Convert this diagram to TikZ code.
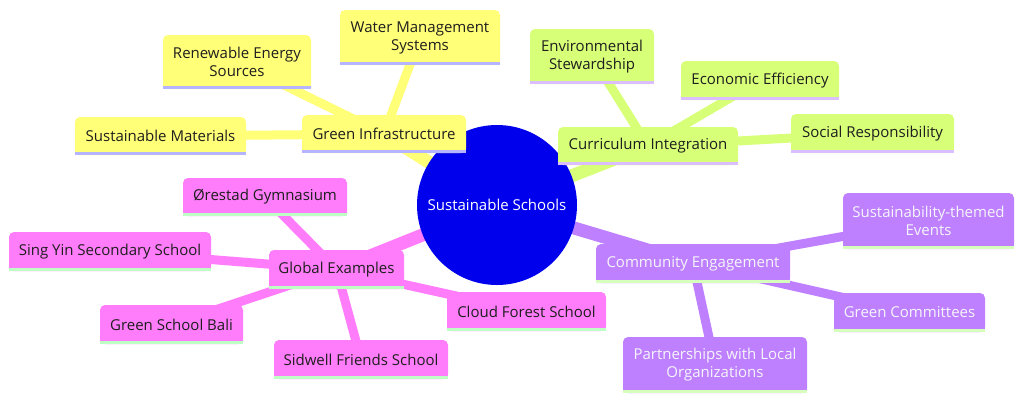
\documentclass[tikz,border=0pt]{standalone}
\usepackage{fontspec}
\setmainfont{Open Sans}
\usetikzlibrary{backgrounds}
\definecolor{cblue}{RGB}{0,0,236}
\definecolor{cy}{RGB}{255,255,120}
\definecolor{cl}{RGB}{216,255,120}
\definecolor{cp}{RGB}{190,128,255}
\definecolor{ck}{RGB}{255,125,250}
\definecolor{uy}{RGB}{180,180,255}
\definecolor{ul}{RGB}{218,190,255}
\definecolor{up}{RGB}{214,255,190}
\definecolor{uk}{RGB}{190,255,195}
\definecolor{tdark}{RGB}{30,30,30}
\definecolor{tlight}{RGB}{245,245,250}
\begin{document}
\begin{tikzpicture}[x=1pt,y=-1pt,
  box/.style={rectangle, rounded corners=5pt, inner sep=0pt, align=center,
    font=\fontsize{15}{18}\selectfont},
  yb/.style={box, fill=cy, text=tdark},
  lb/.style={box, fill=cl, text=tdark},
  pb/.style={box, fill=cp, text=tlight},
  kb/.style={box, fill=ck, text=tdark},
  e1/.style={line width=13pt},
  e2/.style={line width=9pt}]
\useasboundingbox (0,0) rectangle (1024,402);
% root
\node[circle, fill=cblue, minimum size=160pt, inner sep=0pt, text=white,
  font=\fontsize{15}{18}\selectfont] (root) at (497,205) {Sustainable Schools};
% section: green infrastructure
\node[yb, minimum width=164pt, minimum height=38pt] (gi) at (384,134) {Green Infrastructure};
\node[yb, minimum width=160pt, minimum height=55pt] (wms) at (420,37.5) {Water Management\\Systems};
\node[yb, minimum width=148pt, minimum height=54pt] (res) at (237,62) {Renewable Energy\\Sources};
\node[yb, minimum width=171pt, minimum height=38pt] (sm) at (160.5,136) {Sustainable Materials};
% section: curriculum integration
\node[lb, minimum width=180pt, minimum height=38pt] (ci) at (648,146) {Curriculum Integration};
\node[lb, minimum width=124pt, minimum height=55pt] (es) at (592,56.5) {Environmental\\Stewardship};
\node[lb, minimum width=158pt, minimum height=39pt] (ee) at (760,80.5) {Economic Efficiency};
\node[lb, minimum width=163pt, minimum height=39pt] (sr) at (872.5,133.5) {Social Responsibility};
% section: community engagement
\node[pb, minimum width=194pt, minimum height=39pt] (ce) at (693,263.5) {Community Engagement};
\node[pb, minimum width=171pt, minimum height=56pt] (ste) at (928.5,221) {Sustainability-themed\\Events};
\node[pb, minimum width=151pt, minimum height=39pt] (gc) at (909.5,312.5) {Green Committees};
\node[pb, minimum width=184pt, minimum height=56pt] (pl) at (715,365) {Partnerships with Local\\Organizations};
% section: global examples
\node[kb, minimum width=135pt, minimum height=39pt] (ge) at (336.5,269.5) {Global Examples};
\node[kb, minimum width=164pt, minimum height=38pt] (og) at (265,197) {Ørestad Gymnasium};
\node[kb, minimum width=202pt, minimum height=39pt] (sy) at (110,251.5) {Sing Yin Secondary School};
\node[kb, minimum width=143pt, minimum height=39pt] (gsb) at (171.5,324.5) {Green School Bali};
\node[kb, minimum width=174pt, minimum height=39pt] (sfs) at (361,359.5) {Sidwell Friends School};
\node[kb, minimum width=159pt, minimum height=39pt] (cfs) at (526.5,311.5) {Cloud Forest School};
% square bottoms and underlines
\foreach \n/\f/\u in {gi/cy/uy, wms/cy/uy, res/cy/uy, sm/cy/uy,
  ci/cl/ul, es/cl/ul, ee/cl/ul, sr/cl/ul,
  ce/cp/up, ste/cp/up, gc/cp/up, pl/cp/up,
  ge/ck/uk, og/ck/uk, sy/ck/uk, gsb/ck/uk, sfs/ck/uk, cfs/ck/uk}{
  \fill[\f] ([yshift=6pt]\n.south west) rectangle (\n.south east);
  \fill[\u] ([yshift=3pt]\n.south west) rectangle (\n.south east);
}
% edges
\begin{scope}[on background layer]
  \draw[e1, cy] (root.center) -- (gi.center);
  \draw[e1, cl] (root.center) -- (ci.center);
  \draw[e1, cp] (root.center) -- (ce.center);
  \draw[e1, ck] (root.center) -- (ge.center);
  \draw[e2, cy] (gi.center) -- (wms.center);
  \draw[e2, cy] (gi.center) -- (res.center);
  \draw[e2, cy] (gi.center) -- (sm.center);
  \draw[e2, cl] (ci.center) -- (es.center);
  \draw[e2, cl] (ci.center) -- (ee.center);
  \draw[e2, cl] (ci.center) -- (sr.center);
  \draw[e2, cp] (ce.center) -- (ste.center);
  \draw[e2, cp] (ce.center) -- (gc.center);
  \draw[e2, cp] (ce.center) -- (pl.center);
  \draw[e2, ck] (ge.center) -- (og.center);
  \draw[e2, ck] (ge.center) -- (sy.center);
  \draw[e2, ck] (ge.center) -- (gsb.center);
  \draw[e2, ck] (ge.center) -- (sfs.center);
  \draw[e2, ck] (ge.center) -- (cfs.center);
\end{scope}
\end{tikzpicture}
\end{document}
